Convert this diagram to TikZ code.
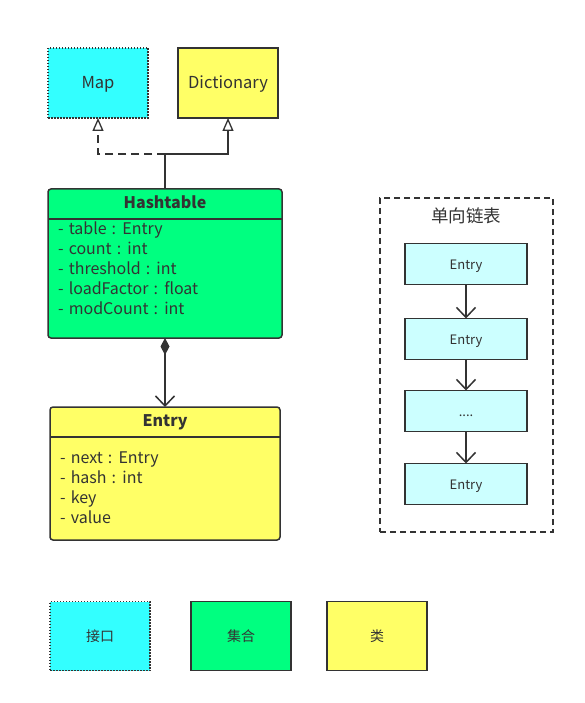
\documentclass[tikz,border=0pt]{standalone}
\usepackage{fontspec}
\setmainfont[WordSpace=1.4]{Noto Sans CJK SC}
\usetikzlibrary{arrows.meta}
\definecolor{lc}{HTML}{333333}
\definecolor{cyanc}{HTML}{33FFFF}
\definecolor{yelc}{HTML}{FFFF66}
\definecolor{grnc}{HTML}{00FF80}
\definecolor{lcyan}{HTML}{CCFFFF}
\begin{document}
\begin{tikzpicture}[x=1pt,y=-1pt]
\tikzset{
  ctr/.style={text height=1.05em, text depth=0pt},
  base/.style={draw=lc, line width=1.5pt, inner sep=0pt, outer sep=0pt, text=lc, ctr, font=\fontsize{16.5}{19}\selectfont},
  iface/.style={base, fill=cyanc, dash pattern=on 1.5pt off 1.5pt},
  cls/.style={base, fill=yelc},
  coll/.style={base, fill=grnc},
  item/.style={base, fill=lcyan, minimum width=122pt, minimum height=41pt, font=\fontsize{13}{15}\selectfont},
  attr/.style={anchor=west, inner sep=0pt, text=lc, ctr, font=\fontsize{16}{19}\selectfont},
  ttl/.style={inner sep=0pt, text=lc, ctr, font=\fontsize{16}{19}\selectfont\bfseries},
  conn/.style={draw=lc, line width=1.5pt},
  hollow/.style={-{Triangle[open, length=13pt, width=11pt, line width=1.3pt]}},
  vee/.style={-{Straight Barb[length=10pt, width=19pt, line width=1.5pt]}},
  leg/.style={font=\fontsize{14}{16}\selectfont, minimum width=100pt, minimum height=69pt}
}
\path[use as bounding box, fill=white] (0,0) rectangle (585,703);

% top interfaces/classes
\node[iface, minimum width=100pt, minimum height=70pt] (map) at (98,83) {Map};
\node[cls, minimum width=100pt, minimum height=70pt] (dict) at (228,83) {Dictionary};

% Hashtable
\node[coll, rounded corners=3pt, minimum width=234pt, minimum height=149pt] (ht) at (165,263.5) {};
\draw[conn] (48,219) -- (282,219);
\node[ttl] (htt) at (165,203) {Hashtable};
\node[attr] (ha1) at (58,229) {- table : Entry};
\node[attr] (ha2) at (58,249) {- count : int};
\node[attr] (ha3) at (58,269) {- threshold : int};
\node[attr] (ha4) at (58,289) {- loadFactor : float};
\node[attr] (ha5) at (58,309) {- modCount : int};

% Entry
\node[cls, rounded corners=3pt, minimum width=230pt, minimum height=133pt] (entry) at (165,473.5) {};
\draw[conn] (50,437) -- (280,437);
\node[ttl] (ent) at (165,421) {Entry};
\node[attr] (ea1) at (60,458) {- next : Entry};
\node[attr] (ea2) at (60,478) {- hash : int};
\node[attr] (ea3) at (60,498) {- key};
\node[attr] (ea4) at (60,518) {- value};

% inheritance connectors
\coordinate (j) at (165,154);
\draw[conn] (ht.north) -- (j);
\draw[conn, hollow, dash pattern=on 8pt off 5pt] (j) -| (map.south);
\draw[conn, hollow] (j) -| (dict.south);

% composition
\draw[conn, {Diamond[length=17pt, width=9pt, fill=lc]}-{Straight Barb[length=10pt, width=19pt, line width=1.5pt]}] (ht.south) -- (entry.north);

% linked list container
\node[draw=lc, line width=1.5pt, dash pattern=on 6pt off 4pt, minimum width=173pt, minimum height=334pt, inner sep=0pt] (list) at (466.5,365) {};
\node[inner sep=0pt, text=lc, ctr, font=\fontsize{17.5}{20}\selectfont] (listt) at (466,217) {单向链表};
\node[item] (e1) at (466,264) {Entry};
\node[item] (e2) at (466,339) {Entry};
\node[item] (e3) at (466,411) {....};
\node[item] (e4) at (466,484) {Entry};
\draw[conn, vee] (e1) -- (e2);
\draw[conn, vee] (e2) -- (e3);
\draw[conn, vee] (e3) -- (e4);

% legend
\node[iface, leg] (l1) at (100,636) {接口};
\node[coll, leg] (l2) at (241,636) {集合};
\node[cls, leg] (l3) at (377,636) {类};
\end{tikzpicture}
\end{document}
